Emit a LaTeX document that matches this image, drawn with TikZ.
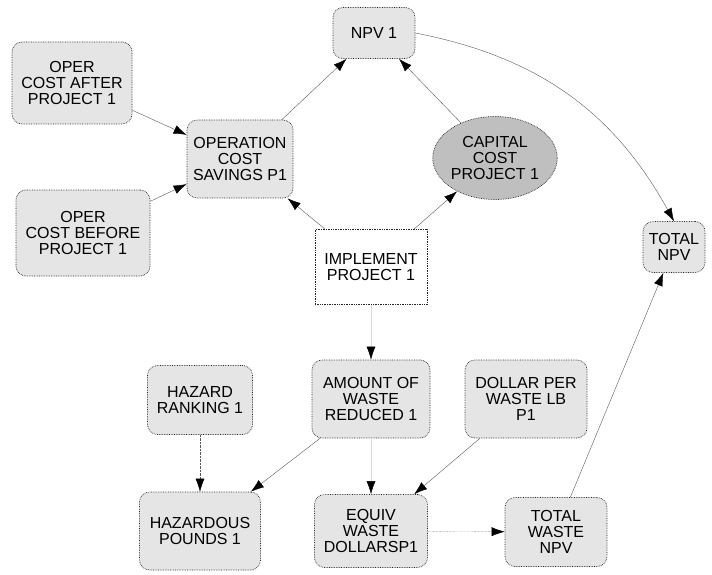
\documentclass[tikz,border=0pt]{standalone}
\usepackage{fontspec}
\setmainfont{Liberation Sans}
\usetikzlibrary{arrows.meta,shapes.geometric}

\tikzset{
  var/.style={draw=black!85, densely dotted, line width=0.7pt, fill=black!10, rounded corners=10pt,
    align=center, inner sep=1pt, font=\fontsize{16}{15.7}\selectfont},
  choice/.style={var, fill=white, rounded corners=0pt},
  chance/.style={var, ellipse, fill=black!25},
  link/.style={-{Latex[length=13pt,width=9pt,black]}, black!65, thin},
  faint/.style={link, black!15}
}

\begin{document}
\begin{tikzpicture}[x=1pt,y=-1pt]
    \useasboundingbox (0,0) rectangle (712,575);
    % decision and value nodes
    \node[var, minimum width=82pt, minimum height=51pt] (npv) at (374,33) {NPV 1};
    \node[var, minimum width=120pt, minimum height=82pt] (after) at (72,83) {OPER\\COST AFTER\\PROJECT 1};
    \node[var, minimum width=134pt, minimum height=86pt] (before) at (83,233) {OPER\\COST BEFORE\\PROJECT 1};
    \node[var, minimum width=106pt, minimum height=78pt] (savings) at (240,159) {OPERATION\\COST\\SAVINGS P1};
    \node[chance, minimum width=114pt, minimum height=83pt, inner sep=0pt] (capital) at (495,158) {CAPITAL\\COST\\PROJECT 1};
    \node[choice, minimum width=112pt, minimum height=75pt] (implement) at (371,267) {IMPLEMENT\\PROJECT 1};
    \node[var, minimum width=62pt, minimum height=51pt] (totalnpv) at (674,247) {TOTAL\\NPV};
    \node[var, minimum width=105pt, minimum height=69pt] (ranking) at (200,400) {HAZARD\\RANKING 1};
    \node[var, minimum width=118pt, minimum height=78pt] (amount) at (371,399) {AMOUNT OF\\WASTE\\REDUCED 1};
    \node[var, minimum width=122pt, minimum height=78pt] (dollar) at (526,399) {DOLLAR PER\\WASTE LB\\P1};
    \node[var, minimum width=121pt, minimum height=78pt] (pounds) at (200,531) {HAZARDOUS\\POUNDS 1};
    \node[var, minimum width=113pt, minimum height=73pt] (equiv) at (371,531) {EQUIV\\WASTE\\DOLLARSP1};
    \node[var, minimum width=102pt, minimum height=69pt] (totalwaste) at (556,532) {TOTAL\\WASTE\\NPV};
    % influences
    \draw[link] (after) -- (savings);
    \draw[link] (before) -- (savings);
    \draw[link] (savings) -- (npv);
    \draw[link] (capital) -- (npv);
    \draw[link] (implement) -- (savings);
    \draw[link] (implement) -- (capital);
    \draw[link] (npv.east) to[bend left=25] (totalnpv.north);
    \draw[faint] (implement) -- (amount);
    \draw[link, densely dotted] (ranking) -- (pounds);
    \draw[link] (amount) -- (pounds);
    \draw[link] (dollar) -- (equiv);
    \draw[faint] (amount) -- (equiv);
    \draw[link, densely dotted] (equiv) -- (totalwaste);
    \draw[link] (totalwaste) -- (totalnpv);
\end{tikzpicture}
\end{document}
